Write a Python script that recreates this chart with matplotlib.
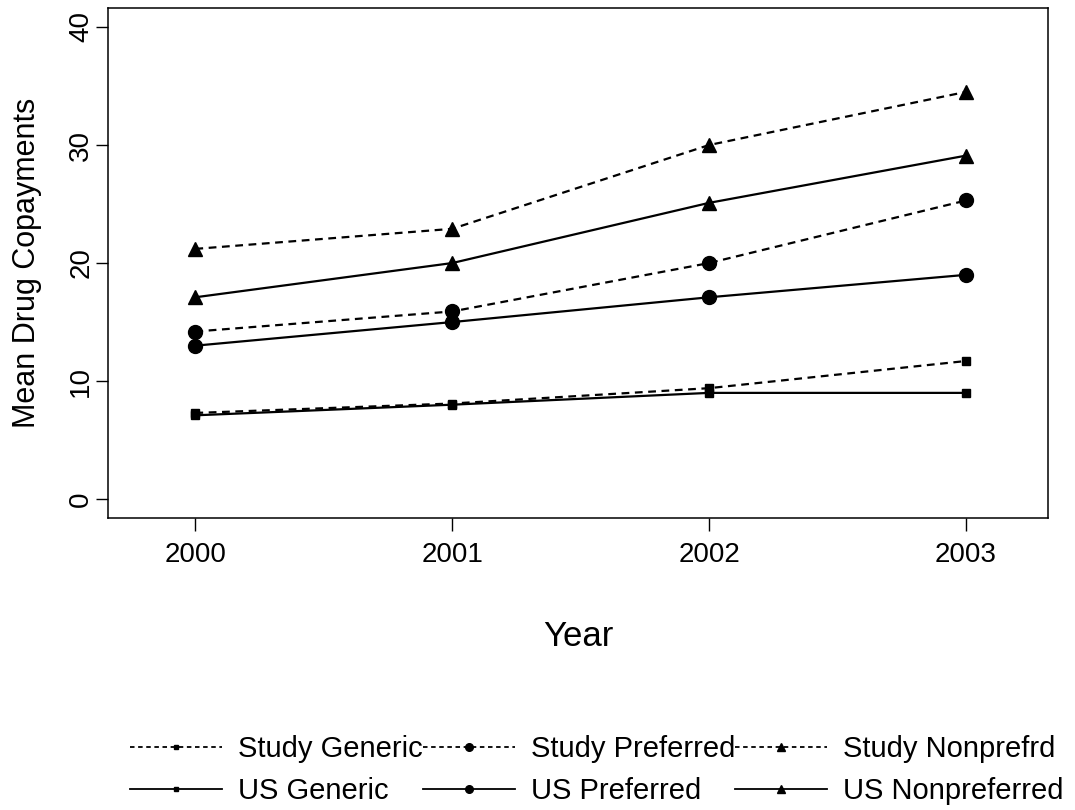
import matplotlib
matplotlib.use('Agg')
import matplotlib.pyplot as plt
from matplotlib.lines import Line2D

plt.rcParams['font.family'] = ['Liberation Sans', 'DejaVu Sans']

years = [2000, 2001, 2002, 2003]

study_generic = [7.3, 8.1, 9.4, 11.7]
study_preferred = [14.2, 15.9, 20.0, 25.3]
study_nonprefrd = [21.2, 22.9, 30.0, 34.5]

us_generic = [7.1, 8.0, 9.0, 9.0]
us_preferred = [13.0, 15.0, 17.1, 19.0]
us_nonpreferred = [17.1, 20.0, 25.1, 29.1]

y_ticks = [0, 10, 20, 30, 40]

dash = (0, (3.5, 2.5))

fig = plt.figure(figsize=(10.75, 8.1), dpi=100)
ax = fig.add_axes([0.1005, 0.3605, 0.8745, 0.6295])

# (values, label, marker, marker size, line style)
series = [
    (study_generic, 'Study Generic', 's', 6, dash),
    (us_generic, 'US Generic', 's', 6, '-'),
    (study_preferred, 'Study Preferred', 'o', 10, dash),
    (us_preferred, 'US Preferred', 'o', 10, '-'),
    (study_nonprefrd, 'Study Nonprefrd', '^', 10, dash),
    (us_nonpreferred, 'US Nonpreferred', '^', 10, '-'),
]

handles = []
for vals, label, mk, ms, ls in series:
    ax.plot(years, vals, color='black', linestyle=ls, linewidth=1.6,
            marker=mk, markersize=ms)
    handles.append(Line2D([], [], color='black',
                          linestyle=(0, (2.5, 2)) if ls != '-' else '-',
                          linewidth=1.3, marker=mk, markersize=ms * 0.55))

ax.set_xlim(1999.66, 2003.32)
ax.set_ylim(-1.6, 41.6)
ax.set_xticks(years)
ax.set_yticks(y_ticks)
ax.set_yticklabels([str(v) for v in y_ticks], rotation=90, va='center')
ax.tick_params(axis='both', direction='out', length=9, width=1.0,
               labelsize=20, color='black')
ax.tick_params(axis='x', pad=8)
ax.tick_params(axis='y', pad=1)
for s in ax.spines.values():
    s.set_linewidth(1.1)

ax.set_ylabel('Mean Drug Copayments', fontsize=22)
ax.yaxis.label.set_verticalalignment('center')
ax.yaxis.set_label_coords(-0.086, 0.5)
ax.set_xlabel('Year', fontsize=25)
ax.xaxis.label.set_verticalalignment('center')
ax.xaxis.set_label_coords(0.5, -0.233)

fig.legend(handles=handles, labels=[s[1] for s in series],
           loc='upper left', bbox_to_anchor=(130 / 1075, 1 - 735 / 810),
           ncol=3, frameon=False, fontsize=21, handlelength=3.15,
           handletextpad=0.55, columnspacing=0.0, labelspacing=0.49,
           borderpad=0, borderaxespad=0)

fig.savefig('out.png', dpi=100)
